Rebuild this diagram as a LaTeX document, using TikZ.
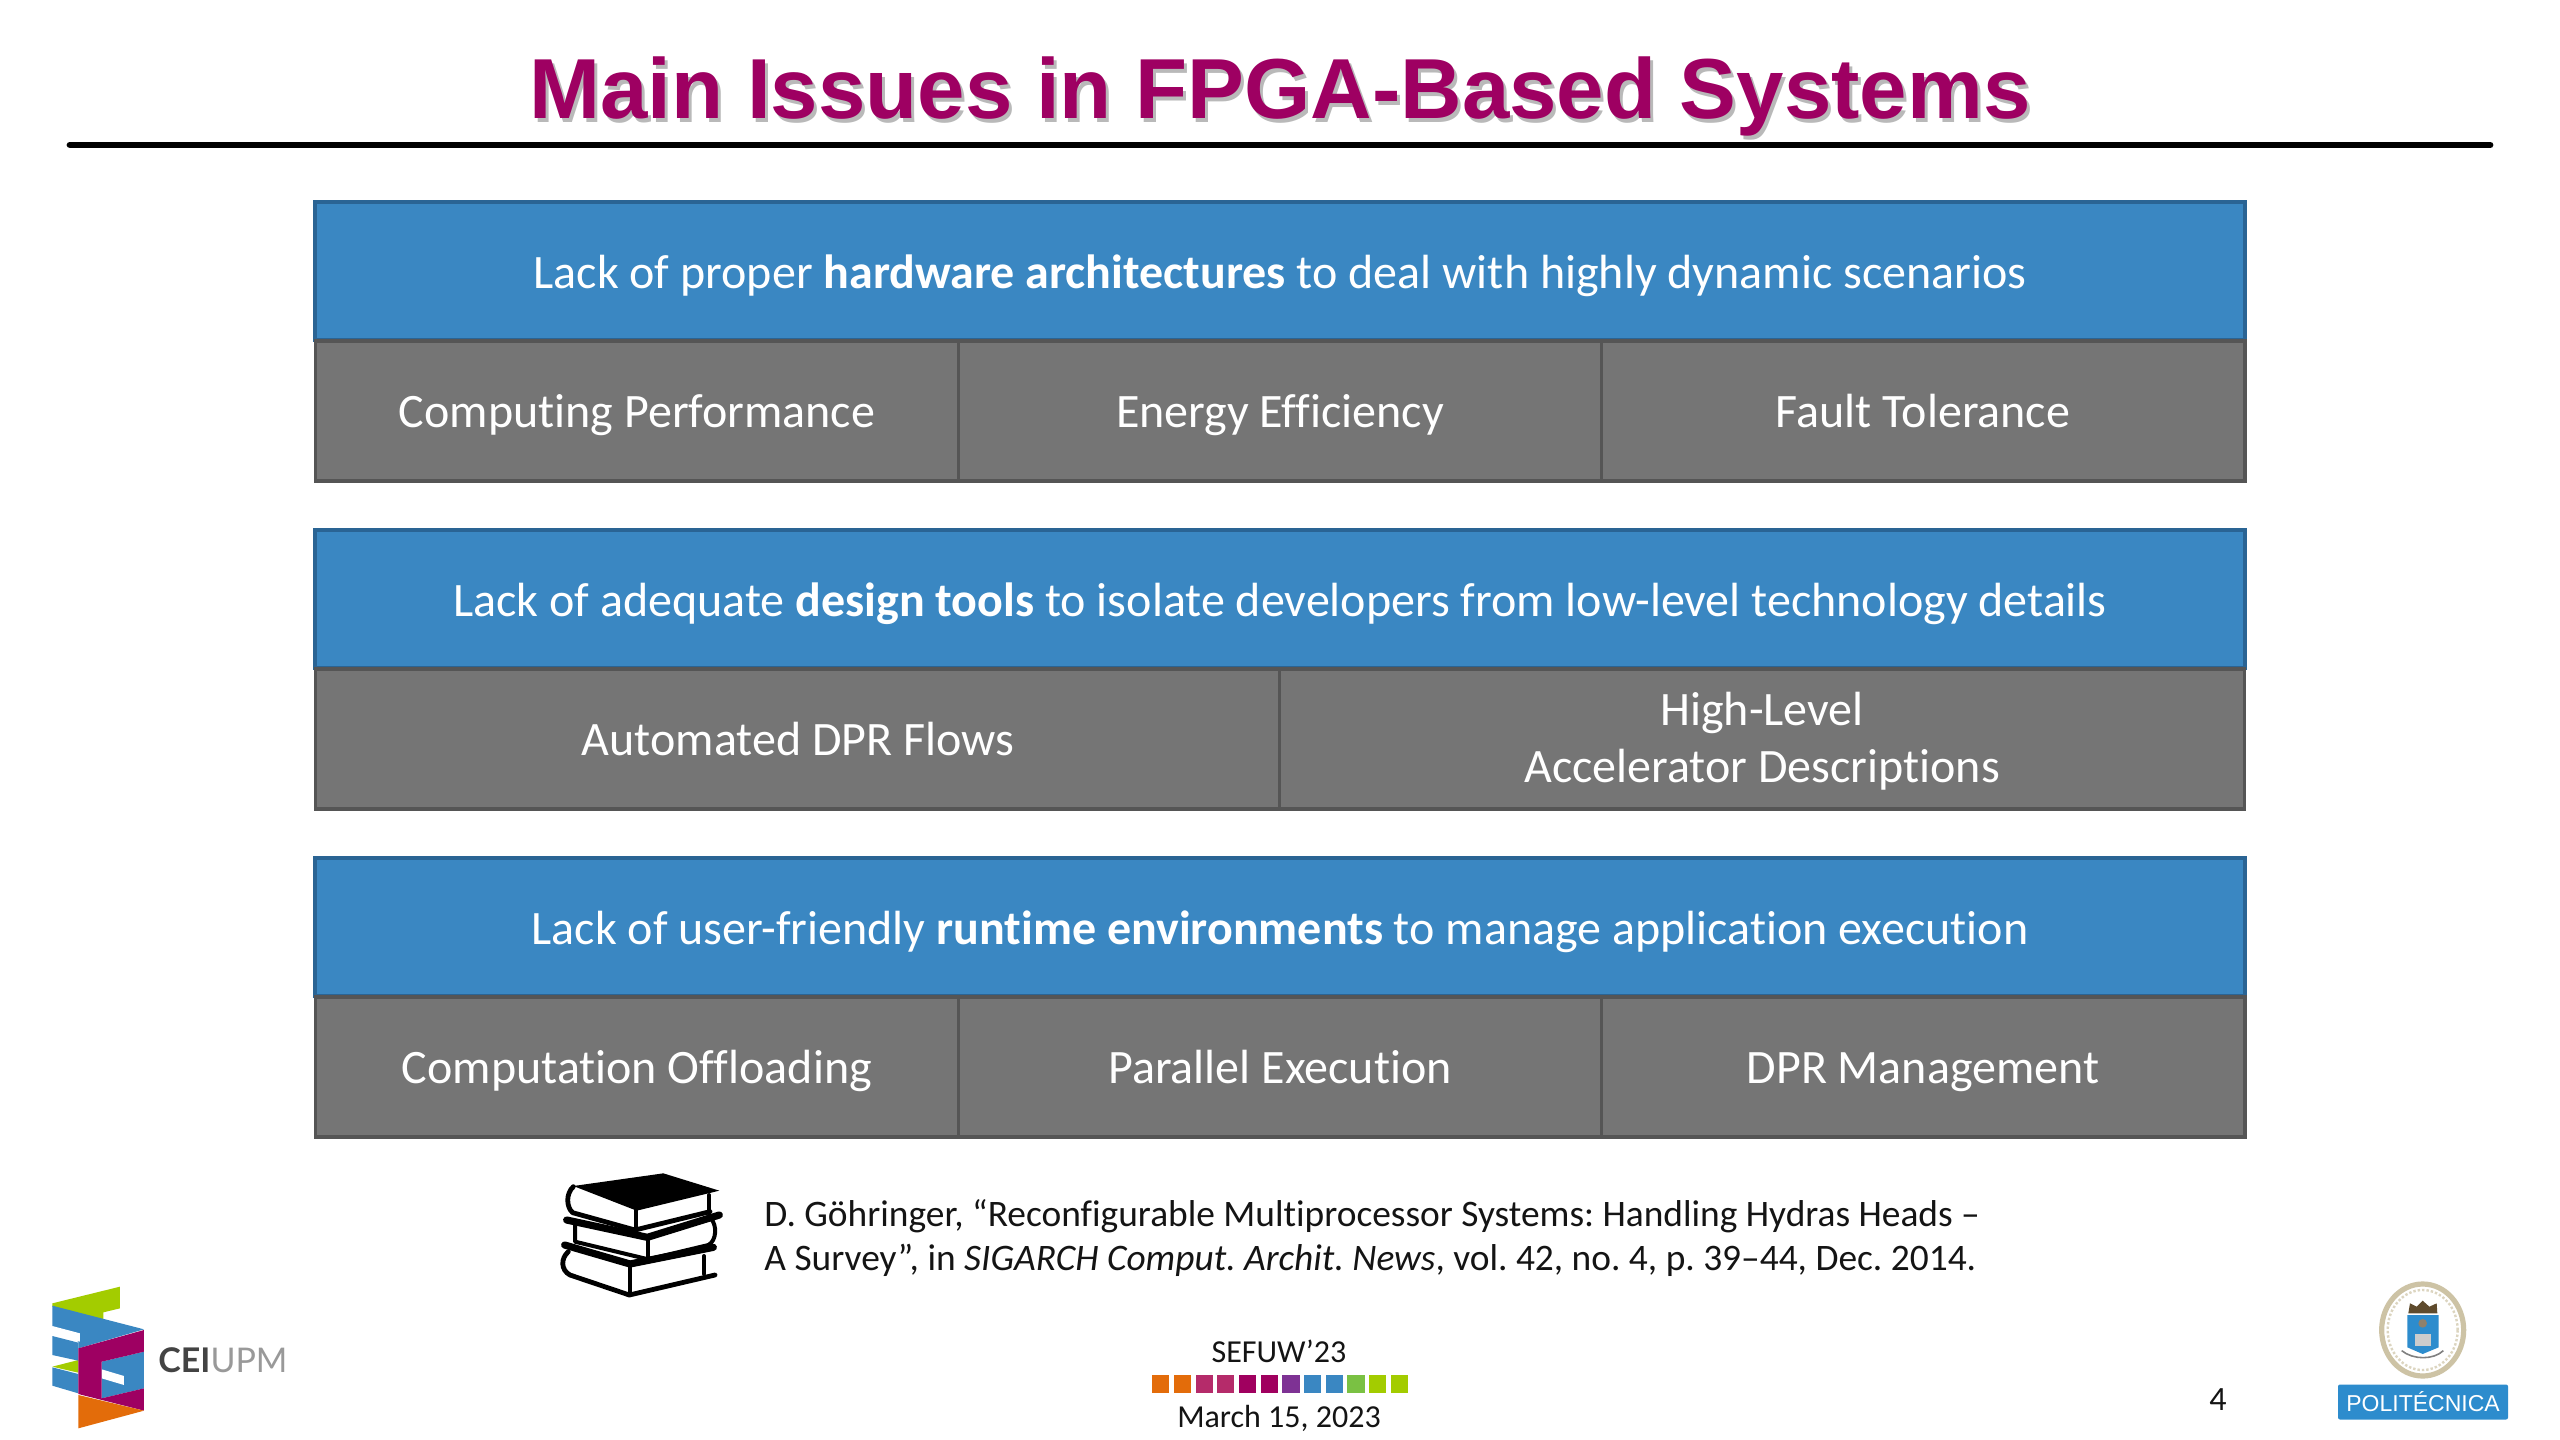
\documentclass[tikz,border=0pt]{standalone}
\usepackage{fontspec}
\setmainfont[RawFeature={-liga}]{Carlito}
\newfontfamily\titlefont{Liberation Sans}
\newfontfamily\logofont{Lato}
\usepackage{xcolor}
\usetikzlibrary{positioning,shapes.geometric}
\definecolor{ink}{RGB}{20,20,20}
\definecolor{title}{RGB}{158,0,98}
\definecolor{shade}{RGB}{185,185,185}
\definecolor{headblue}{RGB}{58,135,194}
\definecolor{headline}{RGB}{42,100,148}
\definecolor{rowgray}{RGB}{117,117,117}
\definecolor{rowline}{RGB}{85,85,85}
\definecolor{logoblue}{RGB}{58,135,194}
\definecolor{logomag}{RGB}{158,0,98}
\definecolor{logoorange}{RGB}{227,108,10}
\definecolor{logogreen}{RGB}{163,204,0}
\definecolor{upmblue}{RGB}{45,140,205}
\definecolor{crest}{RGB}{205,195,165}
\definecolor{crown}{RGB}{95,75,45}
\definecolor{sq1}{RGB}{227,108,10}
\definecolor{sq2}{RGB}{181,43,106}
\definecolor{sq3}{RGB}{160,0,95}
\definecolor{sq4}{RGB}{126,50,148}
\definecolor{sq5}{RGB}{58,135,194}
\definecolor{sq6}{RGB}{122,193,67}
\definecolor{sq7}{RGB}{163,204,0}

\begin{document}
\frenchspacing
\begin{tikzpicture}[x=0.5pt,y=-0.5pt,
  head/.style={draw=headline,fill=headblue,line width=1.6pt,minimum width=965pt,minimum height=69pt,inner sep=0pt,font=\fontsize{24}{28.5}\selectfont,text=white,text height=18.5pt,text depth=1.5pt},
  cell/.style={draw=rowline,fill=rowgray,line width=1.8pt,minimum height=70pt,inner sep=0pt,font=\fontsize{24}{28.5}\selectfont,text=white,text height=18pt,text depth=2pt},
  third/.style={cell,minimum width=321.7pt},
  half/.style={cell,minimum width=482.5pt},
  swatch/.style={minimum size=8.6pt,inner sep=0pt}
]
\useasboundingbox (0,0) rectangle (2560,1440);
\fill[white] (0,0) rectangle (2560,1440);

\node[font=\titlefont\bfseries\fontsize{42.6}{48}\selectfont,text=shade] (titleshade) at (1283,100) {Main Issues in FPGA-Based Systems};
\node[font=\titlefont\bfseries\fontsize{42.6}{48}\selectfont,text=title] (titletext) at (1280,96) {Main Issues in FPGA-Based Systems};
\coordinate (ruleL) at (70,145);
\coordinate (ruleR) at (2490,145);
\draw[line width=3.4pt,line cap=round,black] (ruleL) -- (ruleR);

\node[head] (headA) at (1280,271) {Lack of proper \textbf{hardware architectures} to deal with highly dynamic scenarios};
\node[third] (perf) at (637,411) {Computing Performance};
\node[third] (energy) at (1280,411) {Energy Efficiency};
\node[third] (fault) at (1923,411) {Fault Tolerance};

\node[head] (headB) at (1280,599) {Lack of adequate \textbf{design tools} to isolate developers from low-level technology details};
\node[half] (flows) at (798,739) {Automated DPR Flows};
\node[half,text height=,text depth=1.2pt,align=center] (descr) at (1762,739) {High-Level\\Accelerator Descriptions};

\node[head] (headC) at (1280,927) {Lack of user-friendly \textbf{runtime environments} to manage application execution};
\node[third] (offload) at (637,1067) {Computation Offloading};
\node[third] (parallel) at (1280,1067) {Parallel Execution};
\node[third] (dpr) at (1923,1067) {DPR Management};

\node[anchor=west,inner sep=0pt,align=left,text=ink,font=\fontsize{18.7}{22}\selectfont] (cite) at (764,1238) {D. Göhringer, “Reconfigurable Multiprocessor Systems: Handling Hydras Heads --\\A Survey”, in \textit{SIGARCH Comput. Archit. News}, vol. 42, no. 4, p. 39--44, Dec. 2014.};

% books
\begin{scope}[shift={(540,1150)},scale=1/3,line join=round,line cap=round,black]
\fill (100,108) -- (370,70) -- (538,122) -- (290,182) -- cycle;
\draw[line width=2.4pt] (100,110) .. controls (78,130) and (78,170) .. (98,188) -- (285,240) -- (510,185);
\draw[line width=2pt] (287,180) -- (287,238);
\draw[line width=2pt] (507,135) -- (507,190);
\draw[line width=3.6pt] (80,210) -- (322,262) -- (538,195);
\draw[line width=2pt] (105,225) -- (105,275) -- (325,328) -- (505,285) .. controls (530,272) and (532,225) .. (512,205);
\draw[line width=2pt] (325,265) -- (325,328);
\draw[line width=3.6pt] (74,285) -- (270,342) -- (520,292);
\draw[line width=2.4pt] (85,305) .. controls (62,325) and (62,360) .. (90,375) -- (268,435) -- (525,375);
\draw[line width=2pt] (270,350) -- (270,435);
\draw[line width=2pt] (492,318) -- (492,372);
\end{scope}

% cei logo
\begin{scope}[shift={(0,1240)},scale=1/3]
\fill[logogreen] (157,190) -- (360,140) -- (360,205) -- (310,217) -- (310,240) -- (157,200) -- cycle;
\fill[logogreen] (240,275) -- (310,295) -- (240,320) -- cycle;
\fill[logogreen] (157,380) -- (235,360) -- (235,398) -- cycle;
\fill[logoblue] (157,197) -- (432,268) -- (235,325) -- (235,305) -- (157,258) -- cycle;
\fill[white] (157,258) -- (240,280) -- (240,305) -- (157,285) -- cycle;
\fill[logoblue] (157,288) -- (235,308) -- (235,362) -- (157,345) -- cycle;
\fill[logoblue] (157,382) -- (235,402) -- (235,460) -- (157,437) -- cycle;
\fill[logoblue] (305,365) -- (432,335) -- (432,445) -- (305,475) -- cycle;
\fill[white] (305,388) -- (372,408) -- (372,435) -- (305,415) -- cycle;
\fill[logomag] (235,325) -- (432,270) -- (432,335) -- (305,365) -- (305,475) -- (432,445) -- (432,512) -- (235,462) -- cycle;
\fill[logoorange] (235,465) -- (432,512) -- (235,565) -- cycle;
\end{scope}
\node[anchor=west,inner sep=0pt,font=\logofont\fontsize{17}{20}\selectfont,text=ink!80] (cei) at (158,1360) {\textbf{CEI}\textcolor{gray!80}{UPM}};

% footer
\node[font=\fontsize{16}{19}\selectfont,text=ink] (event) at (1279,1351) {SEFUW’23};
\node[font=\fontsize{16}{19}\selectfont,text=ink] (date) at (1279,1418) {March 15, 2023};
\foreach \i/\c in {0/sq1,1/sq1,2/sq2,3/sq2,4/sq3,5/sq3,6/sq4,7/sq5,8/sq5,9/sq6,10/sq7,11/sq7}
  \node[swatch,fill=\c] (sw\i) at ({1160.7+21.7*\i},1384) {};
\node[font=\fontsize{17}{20}\selectfont,text=ink] (pagenum) at (2218,1400) {4};

% upm logo
\begin{scope}[shift={(2150,1260)},scale=1/3]
\node[ellipse,draw=crest,line width=2.6pt,minimum width=41pt,minimum height=46pt,inner sep=0pt] (ring) at (818,210) {};
\node[ellipse,draw=crest!70,densely dotted,line width=1.2pt,minimum width=35pt,minimum height=40pt,inner sep=0pt] (ringin) at (818,210) {};
\fill[crown] (775,160) -- (780,130) -- (800,140) -- (818,122) -- (838,140) -- (860,130) -- (862,160) -- cycle;
\fill[upmblue] (772,165) -- (866,165) -- (866,262) -- (818,282) -- (772,262) -- cycle;
\fill[crown!70] (818,190) circle[radius=13];
\fill[gray!40] (795,222) rectangle (842,258);
\draw[gray,line width=0.8pt] (755,272) .. controls (790,300) and (850,300) .. (880,272);
\end{scope}
\node[fill=upmblue,rounded corners=1pt,minimum width=85pt,minimum height=17.5pt,inner sep=0pt,font=\titlefont\fontsize{11.5}{14}\selectfont,text=white] (polit) at (2423,1402) {POLITÉCNICA};
\end{tikzpicture}
\end{document}
